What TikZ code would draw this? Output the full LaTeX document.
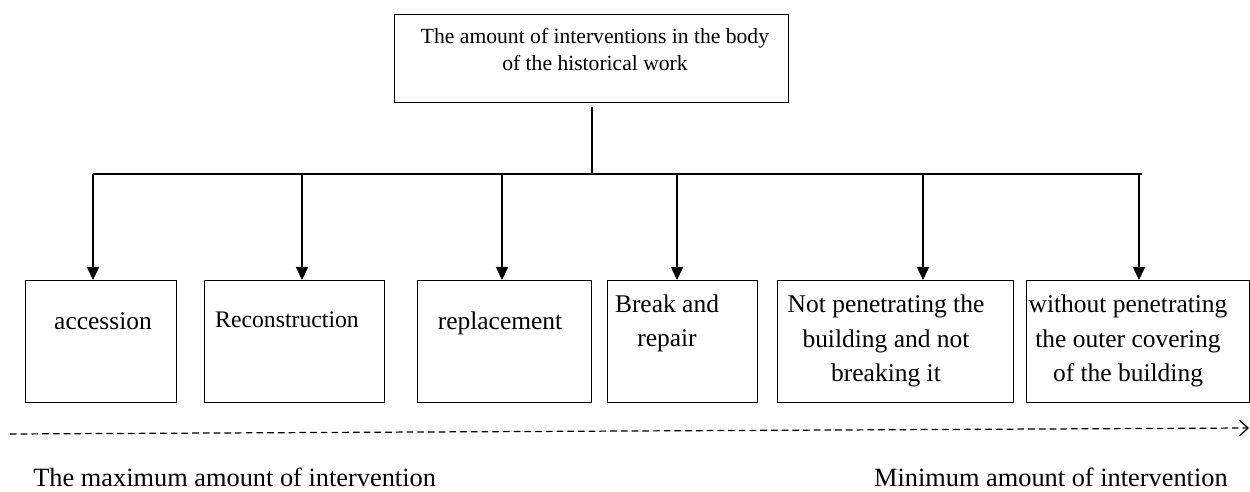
\documentclass[tikz,border=0pt]{standalone}
\usepackage{fontspec}
\setmainfont{Liberation Serif}
\usetikzlibrary{arrows.meta}

\begin{document}
\begin{tikzpicture}[x=0.02cm,y=-0.02cm,
        box/.style={draw,line width=0.75pt,anchor=north west,inner sep=0pt},
        txt/.style={align=center,inner sep=0pt,anchor=base,font=\fontsize{14.5}{19.8}\selectfont},
        lbl/.style={inner sep=0pt,font=\fontsize{15}{18}\selectfont},
        arr/.style={line width=0.7pt,-{Triangle[width=7pt,length=7.5pt]}}]
        \useasboundingbox (0,0) rectangle (1250,492);
        % Draw the top box
        \node[box,minimum width=7.88cm,minimum height=1.76cm] (top) at (394,14) {};
        \node[txt,font=\fontsize{12.3}{15.9}\selectfont] (toptxt) at (595,71) {The amount of interventions in the body\\of the historical work};
        % Draw the six boxes
        \node[box,minimum width=3.02cm,minimum height=2.44cm] (acc) at (25,280) {};
        \node[box,minimum width=3.60cm,minimum height=2.44cm] (recon) at (204,280) {};
        \node[box,minimum width=3.48cm,minimum height=2.44cm] (repl) at (417,280) {};
        \node[box,minimum width=3.00cm,minimum height=2.44cm] (brk) at (607,280) {};
        \node[box,minimum width=4.72cm,minimum height=2.44cm] (notpen) at (777,280) {};
        \node[box,minimum width=4.46cm,minimum height=2.44cm] (without) at (1026,280) {};
        % Texts of the boxes
        \node[txt] (acctxt) at (103,330) {accession};
        \node[txt,font=\fontsize{13.5}{18}\selectfont] (recontxt) at (287,328) {Reconstruction};
        \node[txt] (repltxt) at (500,330) {replacement};
        \node[txt] (brktxt) at (667,347) {Break and\\repair};
        \node[txt] (notpentxt) at (886,382) {Not penetrating the\\building and not\\breaking it};
        \node[txt] (withouttxt) at (1128,382) {without penetrating\\the outer covering\\of the building};
        % Draw the branching lines
        \coordinate (hub) at (592,174);
        \coordinate (busl) at (93,174);
        \coordinate (busr) at (1142,174);
        \draw[line width=0.7pt,shorten <=2pt] (top.south -| hub) -- (hub);
        \draw[line width=0.7pt] (busl) -- (busr);
        \foreach \name/\x in {acc/93,recon/302,repl/502,brk/677,notpen/923,without/1139}
            \draw[arr] (\x,174) -- (\x,174 |- \name.north);
        % Draw the scale of intervention
        \coordinate (dl) at (10,434);
        \coordinate (dr) at (1249,428);
        \draw[line width=0.7pt,dash pattern=on 3.8pt off 2.3pt,-{Straight Barb[length=5pt,width=9pt]}] (dl) -- (dr);
        \node[lbl,anchor=base west] (maxlbl) at (33,487) {The maximum amount of intervention};
        \node[lbl,anchor=base east] (minlbl) at (1228,487) {Minimum amount of intervention};
\end{tikzpicture}
\end{document}
